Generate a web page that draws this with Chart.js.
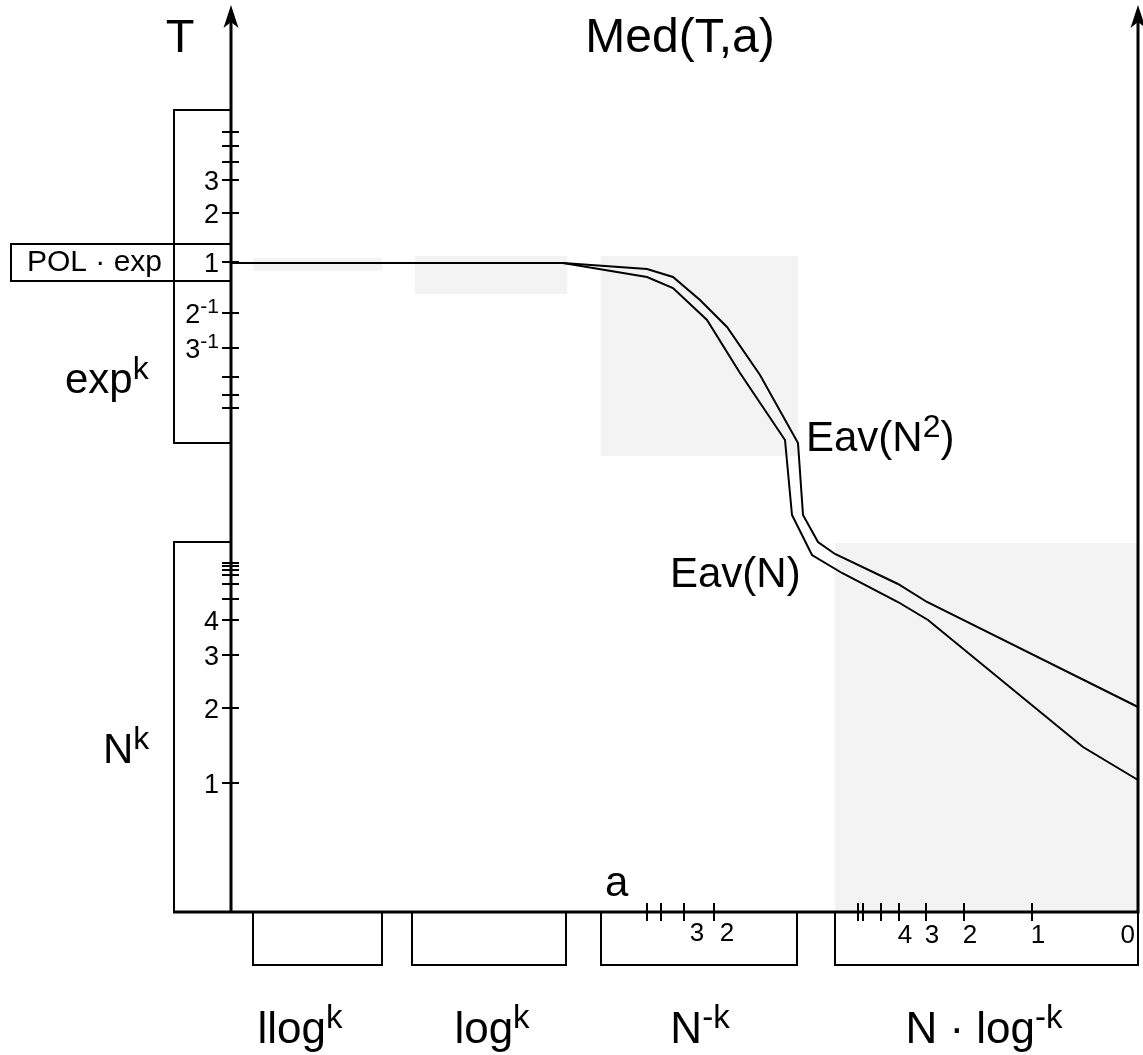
<!DOCTYPE html>
<html>
<head>
<meta charset="utf-8">
<script src="https://cdn.jsdelivr.net/npm/chart.js@4.4.1/dist/chart.umd.min.js"></script>
<style>
  html, body { margin: 0; padding: 0; background: #fff; }
  canvas { display: block; }
</style>
</head>
<body>
<canvas id="chart" width="1143" height="1055"></canvas>
<script>
// Diagram units: a runs along the bottom axis, T up the left axis (origin at the corner)
const eavN2A = [0, 332, 416, 442, 469, 496, 529, 567, 572, 587, 604, 667, 696, 907];
const eavN2T = [649, 649, 643, 635, 612, 585, 537, 469, 397, 370, 358, 328, 310, 205];
const eavNA = [0, 332, 416, 442, 476, 509, 554, 561, 581, 611, 667, 697, 852, 907];
const eavNT = [649, 649, 635, 624, 592, 539, 472, 397, 357, 339, 310, 292, 165, 132];

// Shaded regions (a range, T range)
const shadeA = [[22, 151], [184, 336], [370, 567], [604, 907]];
const shadeT = [[641, 654], [618, 656], [456, 656], [0, 369]];

// Classes of a along the bottom
const classNames = ["llog^{k}", "log^{k}", "N^{-k}", "N \u00b7 log^{-k}"];
const classA = [[22, 151], [181, 335], [370, 566], [604, 907]];

// Classes of T along the left
const expRange = [469, 802];
const polExpRange = [631, 668];
const polyRange = [0, 370];

// Tick marks and their labels
const expTicks = [780, 766, 750, 732, 699, 650, 599, 564, 535, 517, 504];
const expTickLabels = ["", "", "", "3", "2", "1", "2^{-1}", "3^{-1}", "", "", ""];
const polyTicks = [349, 346, 342, 337, 328, 313, 292, 257, 204, 129];
const polyTickLabels = ["", "", "", "", "", "", "4", "3", "2", "1"];
const nkTicks = [416, 430, 453, 483];
const nkTickLabels = ["", "", "3", "2"];
const nlogTicks = [627, 632, 650, 668, 695, 733, 801, 907];
const nlogTickLabels = ["", "", "", "4", "3", "2", "1", "0"];

const A_MAX = 907;
const T_MAX = 907;
const FAMILY = "'Liberation Sans', Arial, Helvetica, sans-serif";

function font(size) {
  return size + "px " + FAMILY;
}

// split "exp^{k}" into normal and superscript parts
function richParts(str) {
  const parts = [];
  const re = /\^\{([^}]*)\}/g;
  let last = 0;
  let m;
  while ((m = re.exec(str))) {
    if (m.index > last) parts.push({ t: str.slice(last, m.index), sup: false });
    parts.push({ t: m[1], sup: true });
    last = re.lastIndex;
  }
  if (last < str.length) parts.push({ t: str.slice(last), sup: false });
  return parts;
}

function drawRich(ctx, str, x, y, size, align) {
  const parts = richParts(str);
  const supSize = Math.round(size * 0.76);
  let w = 0;
  parts.forEach((p) => {
    ctx.font = font(p.sup ? supSize : size);
    p.w = ctx.measureText(p.t).width;
    w += p.w;
  });
  let cx = x;
  if (align === "center") cx = x - w / 2;
  if (align === "right") cx = x - w;
  ctx.textAlign = "left";
  ctx.textBaseline = "alphabetic";
  parts.forEach((p) => {
    ctx.font = font(p.sup ? supSize : size);
    ctx.fillText(p.t, cx, p.sup ? y - size * 0.34 : y);
    cx += p.w;
  });
}

function arrowHead(ctx, px, py) {
  ctx.beginPath();
  ctx.moveTo(px, py);
  ctx.lineTo(px + 7.5, py + 23);
  ctx.lineTo(px, py + 17);
  ctx.lineTo(px - 7.5, py + 23);
  ctx.closePath();
  ctx.fill();
}

const diagramPlugin = {
  id: "diagram",
  beforeDatasetsDraw(chart) {
    const { ctx } = chart;
    const xs = chart.scales.x;
    const ys = chart.scales.y;
    const X = (v) => xs.getPixelForValue(v);
    const Y = (v) => ys.getPixelForValue(v);

    ctx.save();
    // shaded regions
    ctx.fillStyle = "#f3f3f3";
    shadeA.forEach((r, i) => {
      const t = shadeT[i];
      ctx.fillRect(X(r[0]), Y(t[1]), X(r[1]) - X(r[0]), Y(t[0]) - Y(t[1]));
    });

    // class boxes
    ctx.strokeStyle = "#000";
    ctx.lineWidth = 2;
    const box = (a0, a1, t0, t1) => {
      ctx.strokeRect(X(a0), Y(t1), X(a1) - X(a0), Y(t0) - Y(t1));
    };
    box(-57, 0, expRange[0], expRange[1]);
    box(-220, 0, polExpRange[0], polExpRange[1]);
    box(-57, 0, polyRange[0], polyRange[1]);
    classA.forEach((r) => box(r[0], r[1], -53, 0));
    ctx.restore();
  },
  afterDatasetsDraw(chart) {
    const { ctx } = chart;
    const xs = chart.scales.x;
    const ys = chart.scales.y;
    const X = (v) => xs.getPixelForValue(v);
    const Y = (v) => ys.getPixelForValue(v);

    ctx.save();
    ctx.strokeStyle = "#000";
    ctx.fillStyle = "#000";

    // axes
    ctx.lineWidth = 3;
    ctx.beginPath();
    ctx.moveTo(X(0), Y(0));
    ctx.lineTo(X(0), Y(T_MAX) + 12);
    ctx.moveTo(X(A_MAX), Y(0));
    ctx.lineTo(X(A_MAX), Y(T_MAX) + 12);
    ctx.moveTo(X(-58), Y(0));
    ctx.lineTo(X(A_MAX) + 1.5, Y(0));
    ctx.stroke();
    arrowHead(ctx, X(0), Y(T_MAX));
    arrowHead(ctx, X(A_MAX), Y(T_MAX));

    // ticks on the T axis and the a axis
    ctx.lineWidth = 2;
    ctx.beginPath();
    expTicks.concat(polyTicks).forEach((t) => {
      ctx.moveTo(X(0) - 9, Y(t));
      ctx.lineTo(X(0) + 8, Y(t));
    });
    nkTicks.concat(nlogTicks.slice(0, -1)).forEach((a) => {
      ctx.moveTo(X(a), Y(0) - 9);
      ctx.lineTo(X(a), Y(0) + 9);
    });
    ctx.stroke();

    // tick labels
    const tickSize = 27;
    expTicks.forEach((t, i) => {
      if (expTickLabels[i]) drawRich(ctx, expTickLabels[i], X(0) - 12, Y(t) + 9.5, tickSize, "right");
    });
    polyTicks.forEach((t, i) => {
      if (polyTickLabels[i]) drawRich(ctx, polyTickLabels[i], X(0) - 12, Y(t) + 9.5, tickSize, "right");
    });
    nkTicks.forEach((a, i) => {
      if (nkTickLabels[i]) drawRich(ctx, nkTickLabels[i], X(a) + 13, Y(0) + 29, 26, "center");
    });
    nlogTicks.forEach((a, i) => {
      if (!nlogTickLabels[i]) return;
      if (a === A_MAX) drawRich(ctx, nlogTickLabels[i], X(a) - 3, Y(0) + 31, 26, "right");
      else drawRich(ctx, nlogTickLabels[i], X(a) + 6, Y(0) + 31, 26, "center");
    });

    // titles and labels
    drawRich(ctx, "T", X(-51), Y(860), 47, "center");
    drawRich(ctx, "Med(T,a)", X(449), Y(860), 48, "center");
    drawRich(ctx, "exp^{k}", X(-166), Y(519), 42, "left");
    drawRich(ctx, "N^{k}", X(-128), Y(149), 42, "left");
    drawRich(ctx, "POL \u00b7 exp", X(-204), Y(641), 30, "left");
    drawRich(ctx, "Eav(N^{2})", X(575), Y(461), 42, "left");
    drawRich(ctx, "Eav(N)", X(439), Y(325), 42, "left");
    drawRich(ctx, "a", X(374), Y(16), 42, "left");

    const classCenters = [69, 261, 469, 753];
    classNames.forEach((name, i) => {
      drawRich(ctx, name, X(classCenters[i]), Y(-131), 44, "center");
    });
    ctx.restore();
  },
};

const toPoints = (as, ts) => as.map((a, i) => ({ x: a, y: ts[i] }));

new Chart(document.getElementById("chart").getContext("2d"), {
  type: "line",
  data: {
    datasets: [
      {
        label: "Eav(N^2)",
        data: toPoints(eavN2A, eavN2T),
        borderColor: "#000",
        borderWidth: 2,
        pointRadius: 0,
        tension: 0,
        fill: false,
        clip: false,
      },
      {
        label: "Eav(N)",
        data: toPoints(eavNA, eavNT),
        borderColor: "#000",
        borderWidth: 2,
        pointRadius: 0,
        tension: 0,
        fill: false,
        clip: false,
      },
    ],
  },
  options: {
    responsive: false,
    devicePixelRatio: 1,
    animation: false,
    events: [],
    layout: {
      padding: { left: 231, right: 5, top: 5, bottom: 143 },
    },
    plugins: {
      legend: { display: false },
      tooltip: { enabled: false },
    },
    scales: {
      x: { type: "linear", min: 0, max: A_MAX, display: false },
      y: { type: "linear", min: 0, max: T_MAX, display: false },
    },
  },
  plugins: [diagramPlugin],
});
</script>
</body>
</html>
